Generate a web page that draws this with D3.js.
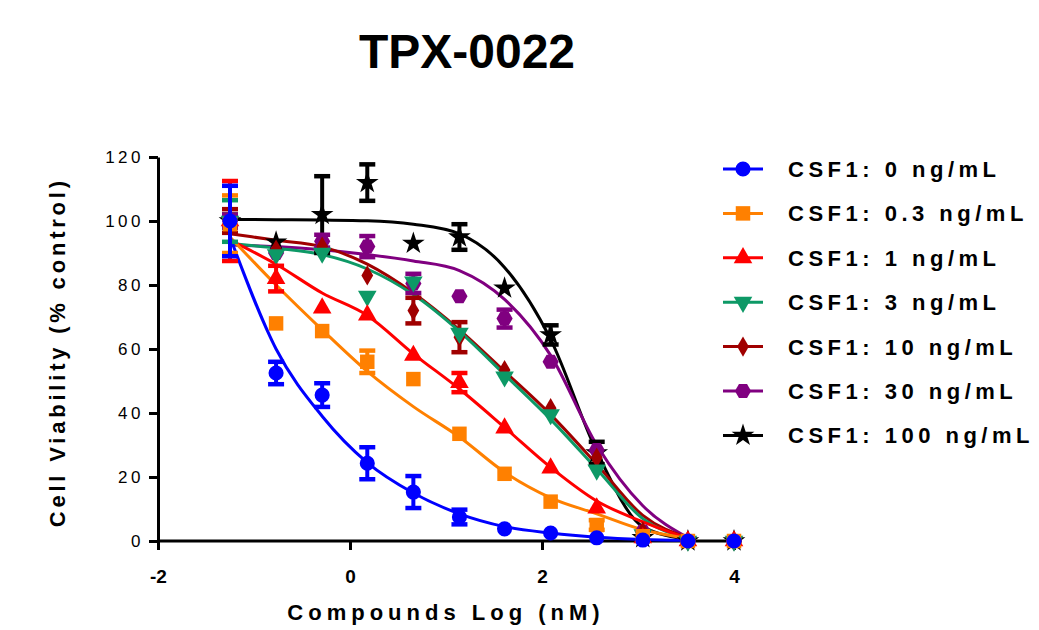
<!DOCTYPE html>
<html lang="en">

<head>
    <meta charset="UTF-8">
    <title>TPX-0022</title>
    <style>
        body {
            margin: 0;
            background: #fff;
        }

        svg {
            font-family: "Liberation Sans", Arial, sans-serif;
        }

        .axis path,
        .axis line {
            fill: none;
            stroke: #000;
            stroke-width: 3px;
        }

        .axis--y text {
            font-size: 17px;
            letter-spacing: 3.5px;
            fill: #000;
        }

        .axis--x text {
            font-size: 19px;
            font-weight: bold;
            fill: #000;
        }

        .label {
            font-weight: bold;
            font-size: 22px;
            fill: #000;
        }
    </style>
</head>

<body>
    <svg class="chart"></svg>
    <script src="https://d3js.org/d3.v7.min.js"></script>
    <script>
        // log dose of compound (nM)
        let doseLog = [-1.25, -0.77, -0.29, 0.18, 0.66, 1.14, 1.61, 2.09, 2.57, 3.05, 3.52, 4.0];

        let seriesNames = ["CSF1: 0 ng/mL", "CSF1: 0.3 ng/mL", "CSF1: 1 ng/mL", "CSF1: 3 ng/mL",
            "CSF1: 10 ng/mL", "CSF1: 30 ng/mL", "CSF1: 100 ng/mL"];
        let seriesColors = ["#0000ff", "#ff8000", "#ff0000", "#0d9966", "#a00000", "#800080", "#000000"];

        // mean viability (% control)
        let csf0 = [100, 52.5, 45.6, 24.3, 15.3, 7.5, 3.8, 2.5, 1, 0.3, 0, 0];
        let csf03 = [99, 68, 65.6, 56, 50.6, 33.5, 21, 12.3, 5, 1.5, 0, 0];
        let csf1 = [100, 82, 72.8, 70.6, 58, 49.5, 35.3, 22.8, 10.3, 1, 0, 0];
        let csf3 = [100, 89.5, 90, 76.5, 81, 65, 51.3, 39.5, 22.2, 2, 0, 0];
        let csf10 = [100, 91, 92, 83, 72, 63.7, 53.4, 41.5, 26, 3, 0, 0];
        let csf30 = [100, 90, 93.7, 92, 80.5, 76.5, 69.5, 56, 28.4, 3, 0, 0];
        let csf100 = [100, 93.4, 102, 112, 93, 95, 79, 64.4, 27.5, 1, 0, 0];

        // SEM
        let err0 = [11, 3.5, 3.7, 5, 5, 2.3, 0, 0, 0, 0, 0, 0];
        let err03 = [9, 0, 0, 3.5, 0, 0, 0, 0, 1.5, 0, 0, 0];
        let err1 = [12.5, 4, 0, 0, 0, 3, 0, 0, 0, 0, 0, 0];
        let err3 = [6.5, 0, 0, 0, 0, 0, 0, 0, 0, 0, 0, 0];
        let err10 = [3.7, 0, 0, 0, 4, 4.7, 0, 0, 0, 0, 0, 0];
        let err30 = [2, 0, 2, 3.3, 3, 0, 2.8, 0, 0, 0, 0, 0];
        let err100 = [2, 0, 12, 5.7, 0, 4, 0, 3, 3.5, 0, 0, 0];

        // fitted curves
        let fitX = [-1.25, -0.77, -0.29, 0.18, 0.66, 1.14, 1.61, 2.09, 2.57, 3.05, 3.52];
        let fit0 = [95, 60, 39, 24.5, 15, 8.5, 4.5, 2.5, 1.2, 0.5, 0.2];
        let fit03 = [95, 80, 66, 53, 42, 32.5, 21.5, 13.5, 8.5, 3.5, 0.8];
        let fit1 = [94, 86.5, 77.5, 70.5, 58.5, 47.5, 35.5, 23, 12.5, 6, 0.8];
        let fit3 = [93, 91.5, 89.5, 85, 77, 65.5, 52, 38, 22.5, 7, 0.8];
        let fit10 = [96, 94, 92, 86.5, 77.5, 66, 53, 39.5, 24, 8, 1];
        let fit30 = [92.5, 92, 91, 89.5, 87.5, 84.5, 75.5, 58, 30, 11, 1];
        let fit100 = [100.5, 100.4, 100.3, 100.1, 99, 96, 85.5, 63, 28, 4.5, 0.5];

        let xTicks = [-2, 0, 2, 4];
        let yTicks = [0, 20, 40, 60, 80, 100, 120];

        let means = [csf0, csf03, csf1, csf3, csf10, csf30, csf100];
        let errs = [err0, err03, err1, err3, err10, err30, err100];
        let fits = [fit0, fit03, fit1, fit3, fit10, fit30, fit100];

        let hexagon = {
            draw(ctx, size) {
                let r = Math.sqrt(size / (1.5 * Math.sqrt(3)));
                for (let i = 0; i < 6; i++) {
                    let a = Math.PI / 3 * i;
                    let px = r * Math.cos(a), py = r * Math.sin(a);
                    i ? ctx.lineTo(px, py) : ctx.moveTo(px, py);
                }
                ctx.closePath();
            }
        };
        let symbols = [
            { type: d3.symbolCircle, size: 180, rot: 0 },
            { type: d3.symbolSquare, size: 210, rot: 0 },
            { type: d3.symbolTriangle, size: 150, rot: 0 },
            { type: d3.symbolTriangle, size: 150, rot: 180 },
            { type: d3.symbolDiamond, size: 120, rot: 0 },
            { type: hexagon, size: 170, rot: 0 },
            { type: d3.symbolStar, size: 160, rot: 0 }
        ];

        let width = 1039, height = 630;

        let x = d3.scaleLinear().domain([-2, 4]).range([158, 734]);
        let y = d3.scaleLinear().domain([0, 120]).range([541, 157]);

        let svg = d3.select(".chart")
            .attr("width", width)
            .attr("height", height);

        // title
        svg.append("text")
            .attr("x", 467)
            .attr("y", 68)
            .attr("text-anchor", "middle")
            .style("font-size", "48px")
            .style("font-weight", "bold")
            .text("TPX-0022");

        // axes
        svg.append("g")
            .attr("class", "axis axis--x")
            .attr("transform", `translate(0,${y(0)})`)
            .call(d3.axisBottom(x).tickValues(xTicks).tickFormat(d => String(d))
                .tickSize(9).tickSizeOuter(0).tickPadding(20))
            .call(g => g.select(".domain").attr("d", `M${x(-2)},0H${x(4) + 8}`));

        svg.append("g")
            .attr("class", "axis axis--y")
            .attr("transform", `translate(${x(-2)},0)`)
            .call(d3.axisLeft(y).tickValues(yTicks).tickSize(9).tickSizeOuter(0).tickPadding(5));

        svg.append("text")
            .attr("class", "label")
            .attr("x", 446)
            .attr("y", 620)
            .attr("text-anchor", "middle")
            .style("letter-spacing", "5px")
            .text("Compounds Log (nM)");

        svg.append("text")
            .attr("class", "label")
            .attr("transform", `translate(65,${y(59)}) rotate(-90)`)
            .attr("text-anchor", "middle")
            .style("letter-spacing", "3.8px")
            .text("Cell Viability (% control)");

        // fitted lines
        let line = d3.line()
            .x((d, i) => x(fitX[i]))
            .y(d => y(d))
            .curve(d3.curveMonotoneX);

        svg.append("g").selectAll("path")
            .data(fits.map((f, k) => ({ f, k })).reverse())
            .enter().append("path")
            .attr("d", d => line(d.f))
            .attr("fill", "none")
            .attr("stroke", d => seriesColors[d.k])
            .attr("stroke-width", 3);

        // points with error bars, last series drawn first
        for (let k = means.length - 1; k >= 0; k--) {
            let pts = means[k].map((v, i) => ({ x: doseLog[i], v: v, e: errs[k][i] }));
            let g = svg.append("g").attr("fill", seriesColors[k]).attr("stroke", seriesColors[k]);
            let eb = pts.filter(d => d.e > 0);
            g.selectAll(".stem").data(eb).enter().append("line")
                .attr("x1", d => x(d.x)).attr("x2", d => x(d.x))
                .attr("y1", d => y(d.v - d.e)).attr("y2", d => y(d.v + d.e))
                .attr("stroke-width", 4);
            g.selectAll(".capTop").data(eb).enter().append("line")
                .attr("x1", d => x(d.x) - 8).attr("x2", d => x(d.x) + 8)
                .attr("y1", d => y(d.v + d.e)).attr("y2", d => y(d.v + d.e))
                .attr("stroke-width", 4.5);
            g.selectAll(".capBot").data(eb).enter().append("line")
                .attr("x1", d => x(d.x) - 8).attr("x2", d => x(d.x) + 8)
                .attr("y1", d => y(d.v - d.e)).attr("y2", d => y(d.v - d.e))
                .attr("stroke-width", 4.5);
            let s = symbols[k];
            g.selectAll(".pt").data(pts).enter().append("path")
                .attr("stroke", "none")
                .attr("transform", d => `translate(${x(d.x)},${y(d.v)}) rotate(${s.rot})`)
                .attr("d", d3.symbol().type(s.type).size(s.size));
        }

        // legend
        let legend = svg.append("g").attr("transform", "translate(723,169)");
        let row = legend.selectAll("g")
            .data(seriesNames)
            .enter().append("g")
            .attr("transform", (d, i) => `translate(0,${i * 44.4})`);
        row.append("line")
            .attr("x1", 0).attr("x2", 40)
            .attr("stroke", (d, i) => seriesColors[i])
            .attr("stroke-width", 3);
        row.append("path")
            .attr("fill", (d, i) => seriesColors[i])
            .attr("transform", (d, i) => `translate(20,0) rotate(${symbols[i].rot})`)
            .attr("d", (d, i) => d3.symbol().type(symbols[i].type).size(symbols[i].size)());
        row.append("text")
            .attr("class", "label")
            .attr("x", 65)
            .attr("dy", "0.36em")
            .style("letter-spacing", "4.5px")
            .text(d => d);
    </script>
</body>

</html>
